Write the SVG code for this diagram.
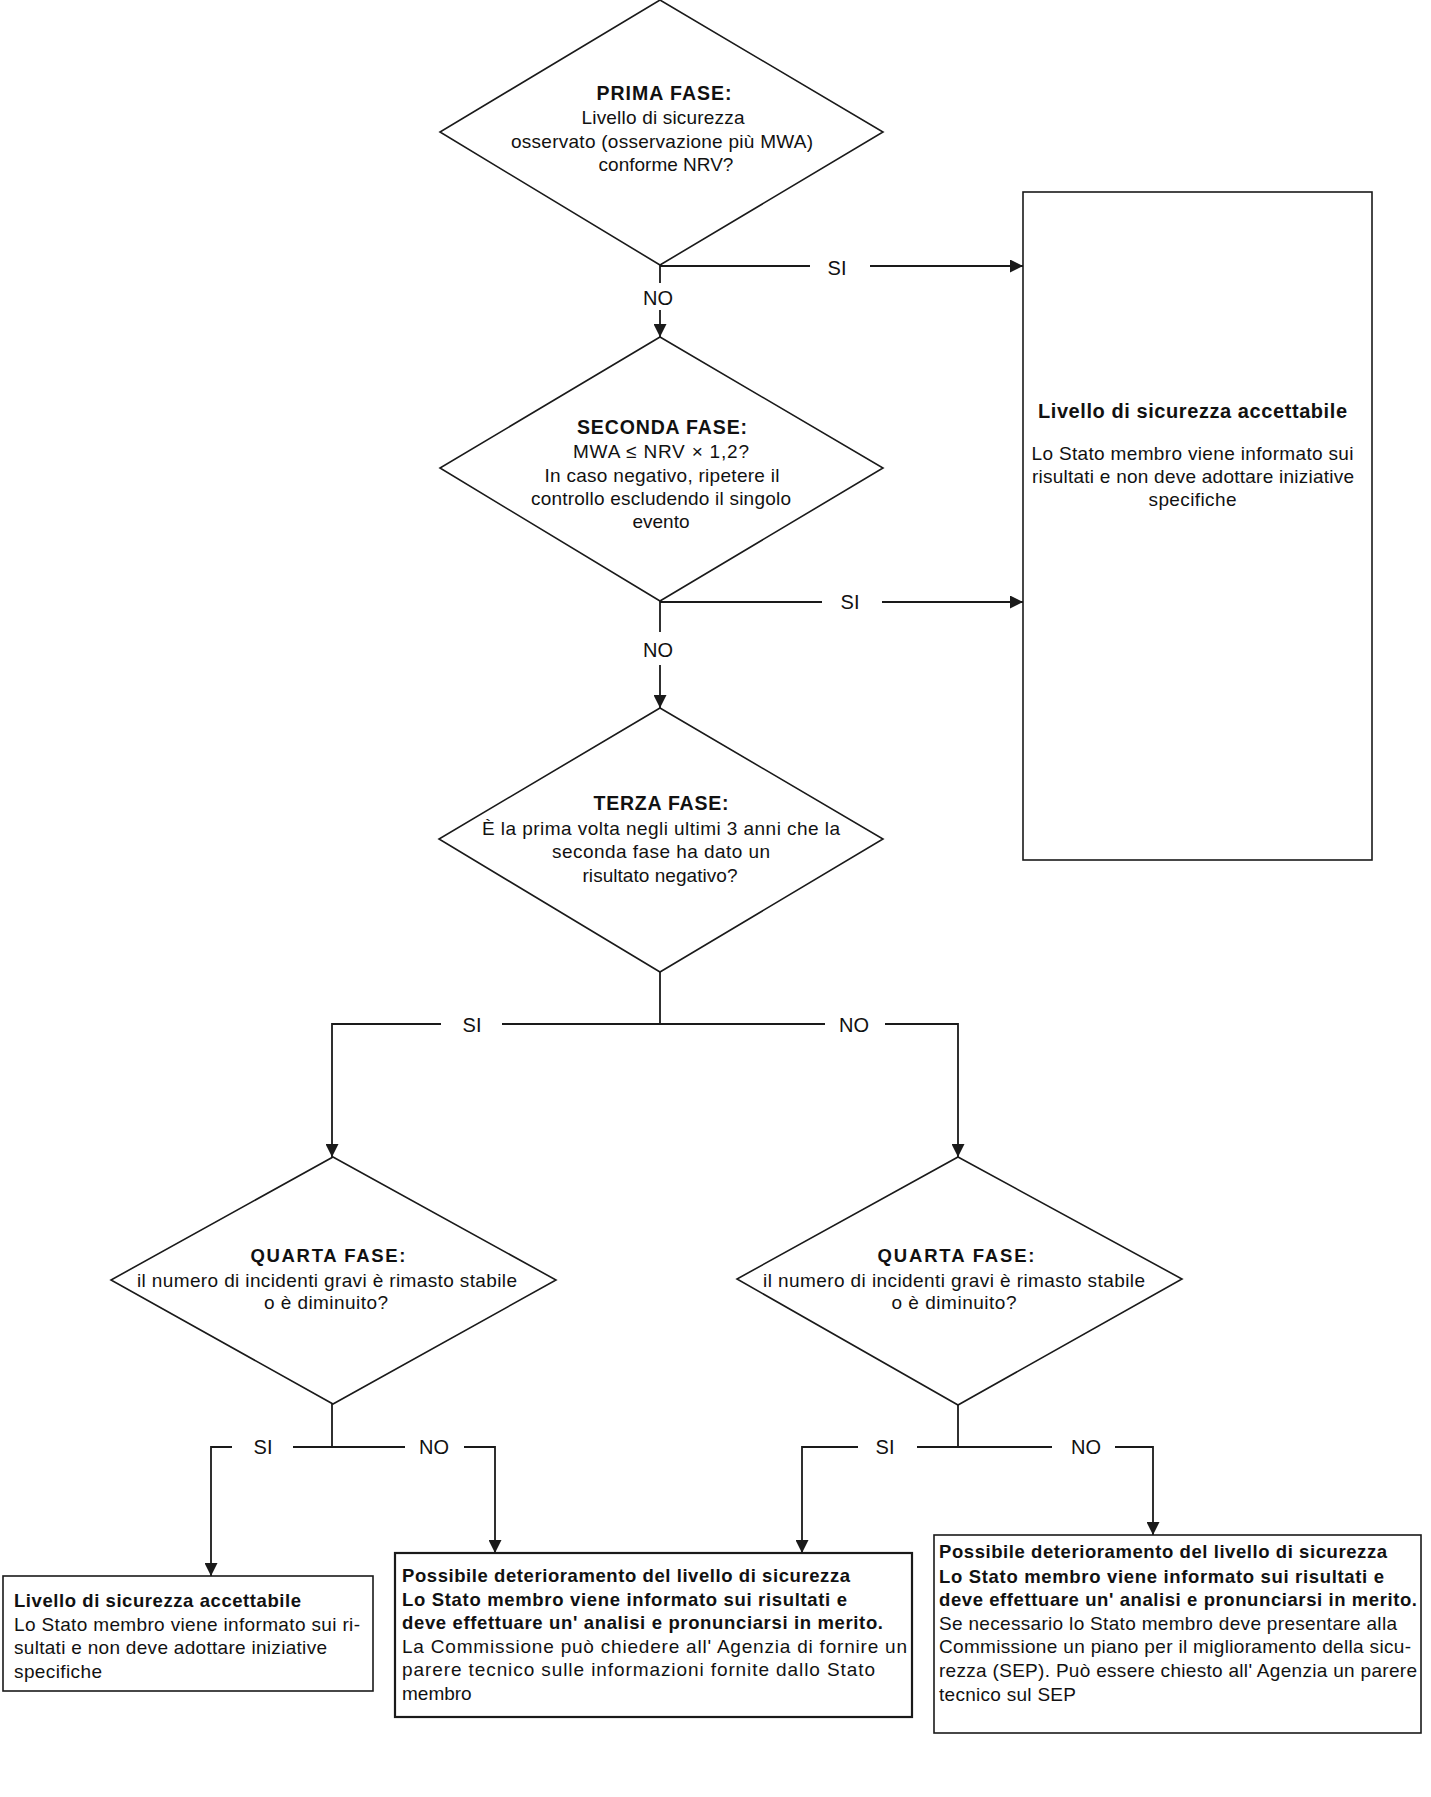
<svg xmlns="http://www.w3.org/2000/svg" width="1431" height="1797" viewBox="0 0 1431 1797">
<style>
  .shape { fill: #fff; stroke: #1a1a1a; stroke-width: 1.6; }
  .box2 { stroke-width: 2.2; }
  .conn { fill: none; stroke: #1a1a1a; stroke-width: 1.8; }
  text { font-family: "Liberation Sans", Arial, Helvetica, sans-serif; fill: #111; }
  .t { font-size: 19px; }
  .b { font-size: 18.5px; font-weight: bold; }
  .h { font-size: 19.5px; font-weight: bold; }
  .bt { font-size: 20px; font-weight: bold; }
  .c { text-anchor: middle; }
  .lbl { font-size: 20px; text-anchor: middle; }
</style>
<defs>
  <marker id="arr" viewBox="0 0 13 13" refX="13" refY="6.5" markerWidth="13" markerHeight="13" markerUnits="userSpaceOnUse" orient="auto">
    <path d="M0,0 L13,6.5 L0,13 z" fill="#1a1a1a"/>
  </marker>
</defs>
<rect width="1431" height="1797" fill="#fff"/>

<g id="connectors">
  <line class="conn" x1="660" y1="265" x2="660" y2="283"/>
  <line class="conn" x1="660" y1="310" x2="660" y2="337" marker-end="url(#arr)"/>
  <line class="conn" x1="660" y1="266" x2="810" y2="266"/>
  <line class="conn" x1="870" y1="266" x2="1023" y2="266" marker-end="url(#arr)"/>
  <line class="conn" x1="660" y1="602" x2="822" y2="602"/>
  <line class="conn" x1="882" y1="602" x2="1023" y2="602" marker-end="url(#arr)"/>
  <line class="conn" x1="660" y1="601" x2="660" y2="632"/>
  <line class="conn" x1="660" y1="665" x2="660" y2="708" marker-end="url(#arr)"/>
  <line class="conn" x1="660" y1="972" x2="660" y2="1024"/>
  <line class="conn" x1="502" y1="1024" x2="825" y2="1024"/>
  <polyline class="conn" points="441,1024 332,1024 332,1157" marker-end="url(#arr)"/>
  <polyline class="conn" points="885,1024 958,1024 958,1157" marker-end="url(#arr)"/>
  <line class="conn" x1="332" y1="1404" x2="332" y2="1447"/>
  <line class="conn" x1="293" y1="1447" x2="405" y2="1447"/>
  <polyline class="conn" points="232,1447 211,1447 211,1576" marker-end="url(#arr)"/>
  <polyline class="conn" points="464,1447 495,1447 495,1553" marker-end="url(#arr)"/>
  <line class="conn" x1="958" y1="1405" x2="958" y2="1447"/>
  <line class="conn" x1="917" y1="1447" x2="1052" y2="1447"/>
  <polyline class="conn" points="858,1447 802,1447 802,1553" marker-end="url(#arr)"/>
  <polyline class="conn" points="1115,1447 1153,1447 1153,1535" marker-end="url(#arr)"/>
  <text class="lbl" x="837" y="275">SI</text>
  <text class="lbl" x="658" y="305">NO</text>
  <text class="lbl" x="850" y="609">SI</text>
  <text class="lbl" x="658" y="657">NO</text>
  <text class="lbl" x="472" y="1032">SI</text>
  <text class="lbl" x="854" y="1032">NO</text>
  <text class="lbl" x="263" y="1454">SI</text>
  <text class="lbl" x="434" y="1454">NO</text>
  <text class="lbl" x="885" y="1454">SI</text>
  <text class="lbl" x="1086" y="1454">NO</text>
</g>

<g id="step1">
  <polygon class="shape" points="660,0 883,132 660,265 440,132"/>
  <text class="h c" x="664" y="100" textLength="135" lengthAdjust="spacing">PRIMA FASE:</text>
  <text class="t c" x="663" y="124" textLength="163" lengthAdjust="spacing">Livello di sicurezza</text>
  <text class="t c" x="662" y="148" textLength="302" lengthAdjust="spacing">osservato (osservazione più MWA)</text>
  <text class="t c" x="666" y="171">conforme NRV?</text>
</g>

<g id="step2">
  <polygon class="shape" points="660,337 883,468 660,601 440,468"/>
  <text class="h c" x="662" y="434" textLength="170" lengthAdjust="spacing">SECONDA FASE:</text>
  <text class="t c" x="661" y="458" textLength="176" lengthAdjust="spacing">MWA ≤ NRV × 1,2?</text>
  <text class="t c" x="662" y="482" textLength="235" lengthAdjust="spacing">In caso negativo, ripetere il</text>
  <text class="t c" x="661" y="505" textLength="260" lengthAdjust="spacing">controllo escludendo il singolo</text>
  <text class="t c" x="661" y="528">evento</text>
</g>

<g id="step3">
  <polygon class="shape" points="660,708 883,839 660,972 439,839"/>
  <text class="h c" x="661" y="810" textLength="135" lengthAdjust="spacing">TERZA FASE:</text>
  <text class="t c" x="661" y="835" textLength="358" lengthAdjust="spacing">È la prima volta negli ultimi 3 anni che la</text>
  <text class="t c" x="661" y="858" textLength="218" lengthAdjust="spacing">seconda fase ha dato un</text>
  <text class="t c" x="660" y="882" textLength="155" lengthAdjust="spacing">risultato negativo?</text>
</g>

<g id="accept-top">
  <rect class="shape" x="1023" y="192" width="349" height="668"/>
  <text class="bt c" x="1192.5" y="418" textLength="309" lengthAdjust="spacing">Livello di sicurezza accettabile</text>
  <text class="t c" x="1192.5" y="460" textLength="322" lengthAdjust="spacing">Lo Stato membro viene informato sui</text>
  <text class="t c" x="1193" y="483" textLength="322" lengthAdjust="spacing">risultati e non deve adottare iniziative</text>
  <text class="t c" x="1192.5" y="506" textLength="88" lengthAdjust="spacing">specifiche</text>
</g>

<g id="step4-left">
  <polygon class="shape" points="333,1157 556,1280 333,1404 111,1280"/>
  <text class="b c" x="328" y="1262" textLength="155" lengthAdjust="spacing">QUARTA FASE:</text>
  <text class="t c" x="327" y="1287" textLength="380" lengthAdjust="spacing">il numero di incidenti gravi è rimasto stabile</text>
  <text class="t c" x="326" y="1309" textLength="124" lengthAdjust="spacing">o è diminuito?</text>
</g>

<g id="step4-right">
  <polygon class="shape" points="958,1157 1182,1279 958,1405 737,1279"/>
  <text class="b c" x="956" y="1262" textLength="157" lengthAdjust="spacing">QUARTA FASE:</text>
  <text class="t c" x="954" y="1287" textLength="382" lengthAdjust="spacing">il numero di incidenti gravi è rimasto stabile</text>
  <text class="t c" x="954" y="1309" textLength="125" lengthAdjust="spacing">o è diminuito?</text>
</g>

<g id="accept-bottom">
  <rect class="shape" x="3" y="1576" width="370" height="115"/>
  <text class="b" x="14" y="1607" textLength="287" lengthAdjust="spacing">Livello di sicurezza accettabile</text>
  <text class="t" x="14" y="1631" textLength="346" lengthAdjust="spacing">Lo Stato membro viene informato sui ri-</text>
  <text class="t" x="14" y="1654" textLength="313" lengthAdjust="spacing">sultati e non deve adottare iniziative</text>
  <text class="t" x="14" y="1678" textLength="88" lengthAdjust="spacing">specifiche</text>
</g>

<g id="deterioration-commission">
  <rect class="shape box2" x="395" y="1553" width="517" height="164"/>
  <text class="b" x="402" y="1582" textLength="448" lengthAdjust="spacing">Possibile deterioramento del livello di sicurezza</text>
  <text class="b" x="402" y="1606" textLength="445" lengthAdjust="spacing">Lo Stato membro viene informato sui risultati e</text>
  <text class="b" x="402" y="1629" textLength="481" lengthAdjust="spacing">deve effettuare un' analisi e pronunciarsi in merito.</text>
  <text class="t" x="402" y="1653" textLength="505" lengthAdjust="spacing">La Commissione può chiedere all' Agenzia di fornire un</text>
  <text class="t" x="402" y="1676" textLength="473" lengthAdjust="spacing">parere tecnico sulle informazioni fornite dallo Stato</text>
  <text class="t" x="402" y="1700">membro</text>
</g>

<g id="deterioration-sep">
  <rect class="shape" x="934" y="1535" width="487" height="198"/>
  <text class="b" x="939" y="1558" textLength="448" lengthAdjust="spacing">Possibile deterioramento del livello di sicurezza</text>
  <text class="b" x="939" y="1583" textLength="445" lengthAdjust="spacing">Lo Stato membro viene informato sui risultati e</text>
  <text class="b" x="939" y="1606" textLength="478" lengthAdjust="spacing">deve effettuare un' analisi e pronunciarsi in merito.</text>
  <text class="t" x="939" y="1630" textLength="458" lengthAdjust="spacing">Se necessario lo Stato membro deve presentare alla</text>
  <text class="t" x="939" y="1653" textLength="472" lengthAdjust="spacing">Commissione un piano per il miglioramento della sicu-</text>
  <text class="t" x="939" y="1677" textLength="478" lengthAdjust="spacing">rezza (SEP). Può essere chiesto all' Agenzia un parere</text>
  <text class="t" x="939" y="1701" textLength="137" lengthAdjust="spacing">tecnico sul SEP</text>
</g>
</svg>
